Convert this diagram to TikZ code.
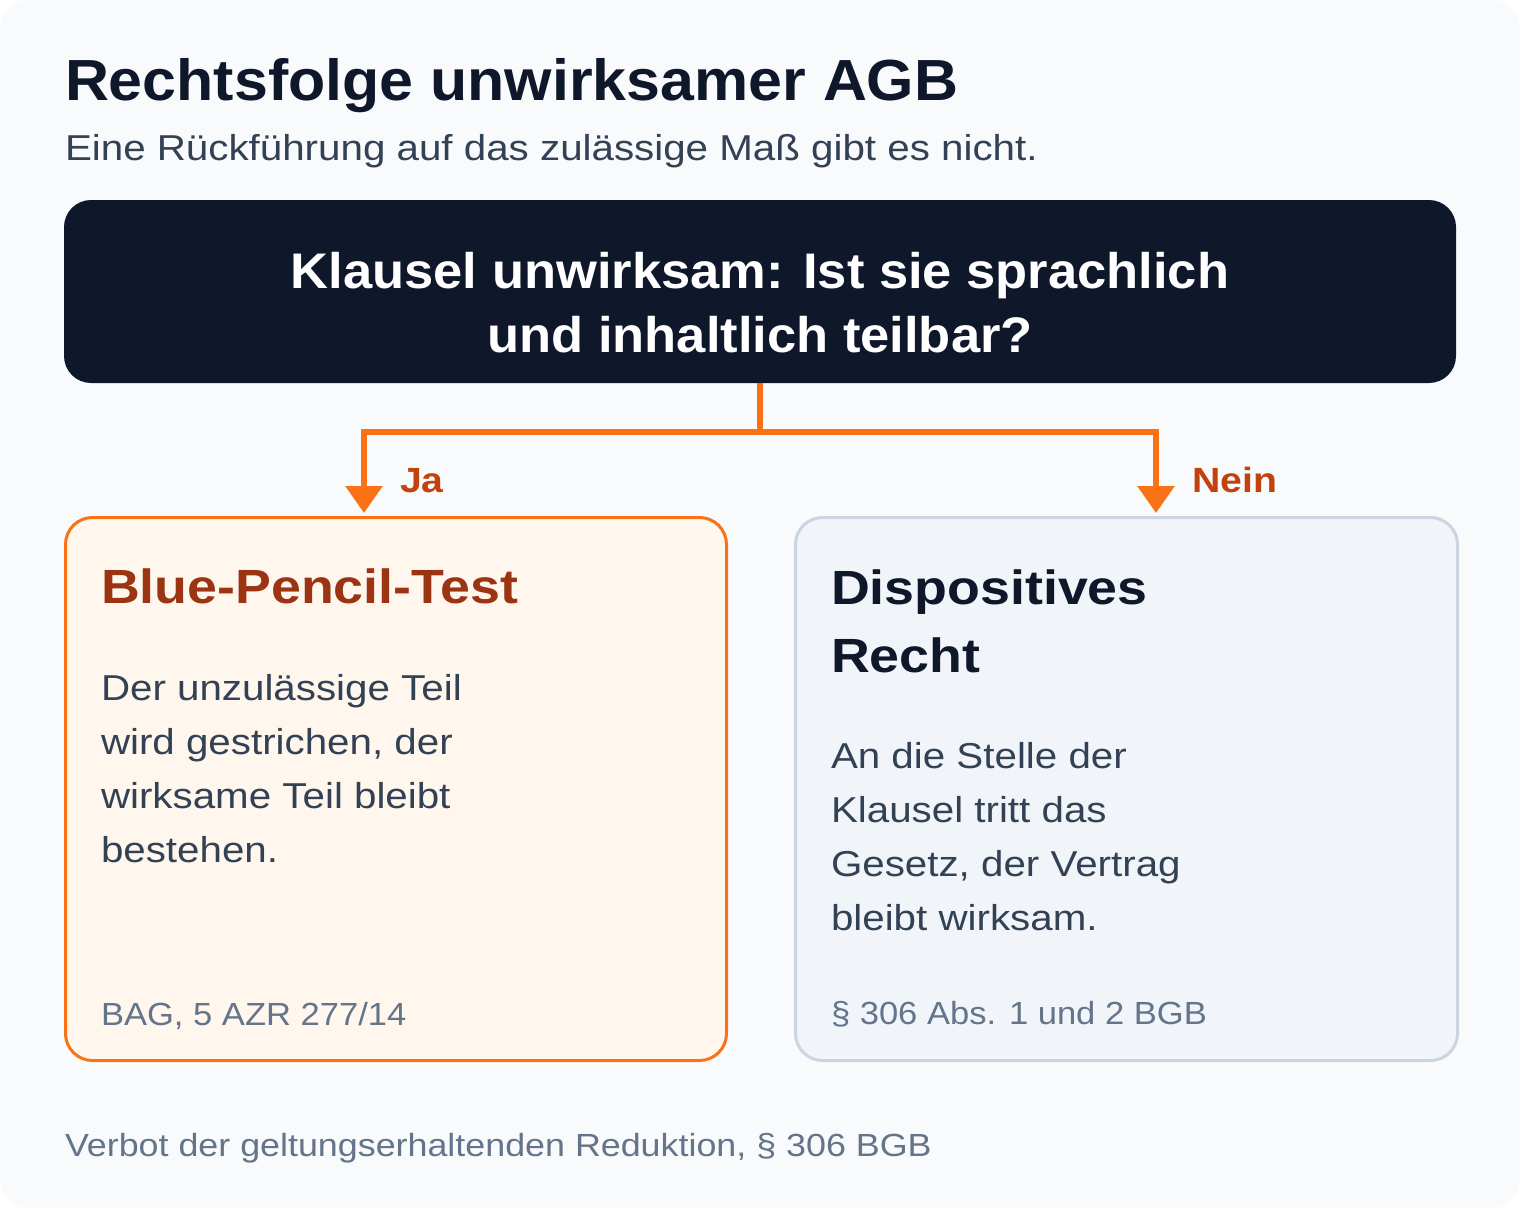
\documentclass[tikz,border=0pt]{standalone}
\usepackage{fontspec}
\setmainfont{Liberation Sans}[FakeStretch=1.12]
\newfontfamily\widefont{Liberation Sans}[FakeStretch=1.05]
\newfontfamily\notefont{Liberation Sans}[FakeStretch=1.08]
\usetikzlibrary{arrows.meta}
\definecolor{pagebg}{HTML}{F8FAFC}
\definecolor{ink}{HTML}{0F172A}
\definecolor{slatetext}{HTML}{334155}
\definecolor{muted}{HTML}{64748B}
\definecolor{orangeline}{HTML}{F97316}
\definecolor{orangelabel}{HTML}{C2410C}
\definecolor{orangetitle}{HTML}{9A3412}
\definecolor{orangefill}{HTML}{FFF7ED}
\definecolor{greyfill}{HTML}{F1F5F9}
\definecolor{greyline}{HTML}{CBD5E1}
\tikzset{
  txt/.style={inner sep=0pt, outer sep=0pt, anchor=base west, align=left},
  boxtitle/.style={txt, font=\fontsize{48}{68}\selectfont\bfseries},
  boxbody/.style={txt, font=\fontsize{36}{54}\selectfont, text=slatetext},
  boxnote/.style={txt, font=\notefont\fontsize{32}{40}\selectfont, text=muted},
  branchlabel/.style={txt, font=\fontsize{35}{42}\selectfont\bfseries, text=orangelabel},
  card/.style={draw, line width=3pt, rounded corners=27pt, minimum width=#1, minimum height=543pt, inner sep=0pt, anchor=north west},
  conn/.style={draw=orangeline, line width=6pt, line join=miter},
  arr/.style={conn, -{Triangle[length=27pt,width=36pt]}},
}
\begin{document}
\begin{tikzpicture}[x=1pt,y=-1pt]
\useasboundingbox (0,0) rectangle (1520,1208);
\fill[white] (0,0) rectangle (1520,1208);
\fill[pagebg, rounded corners=28pt] (0,0) rectangle (1520,1208);

% anchor=base on a multi-line node sits on the baseline of its LAST line
\node[txt, font=\widefont\fontsize{58}{70}\selectfont\bfseries, text=ink] (title) at (65,100) {Rechtsfolge unwirksamer AGB};
\node[txt, font=\fontsize{36}{44}\selectfont, text=slatetext] (sub) at (65,160) {Eine Rückführung auf das zulässige Maß gibt es nicht.};

\node[fill=ink, rounded corners=27pt, minimum width=1392pt, minimum height=183pt, inner sep=0pt] (q) at (760,291.5) {};
\node[inner sep=0pt, anchor=base, align=center, text=white, font=\widefont\fontsize{50}{64}\selectfont\bfseries] (qt) at (760,352) {Klausel unwirksam: Ist sie sprachlich\\und inhaltlich teilbar?};

\node[card=661pt, draw=orangeline, fill=orangefill] (L) at (64,516) {};
\node[card=662pt, draw=greyline, fill=greyfill] (R) at (794,516) {};

\coordinate (hl) at (364,432);
\coordinate (hr) at (1156,432);
\coordinate (aL) at (364,513);
\coordinate (aR) at (1156,513);
\draw[arr] (q.south) |- (hl) -- (aL);
\draw[arr] (q.south) |- (hr) -- (aR);

\node[branchlabel] (ja) at (400,492) {Ja};
\node[branchlabel] (nein) at (1192,492) {Nein};

\node[boxtitle, text=orangetitle] (lt) at (101,603) {Blue-Pencil-Test};
\node[boxbody] (lb) at (101,862) {Der unzulässige Teil\\wird gestrichen, der\\wirksame Teil bleibt\\bestehen.};
\node[boxnote] (ln) at (101,1025) {BAG, 5 AZR 277/14};

\node[boxtitle, text=ink] (rt) at (831,672) {Dispositives\\Recht};
\node[boxbody] (rb) at (831,930) {An die Stelle der\\Klausel tritt das\\Gesetz, der Vertrag\\bleibt wirksam.};
\node[boxnote] (rn) at (831,1024) {§ 306 Abs. 1 und 2 BGB};

\node[txt, font=\fontsize{32}{40}\selectfont, text=muted] (foot) at (65,1156) {Verbot der geltungserhaltenden Reduktion, § 306 BGB};
\end{tikzpicture}
\end{document}
